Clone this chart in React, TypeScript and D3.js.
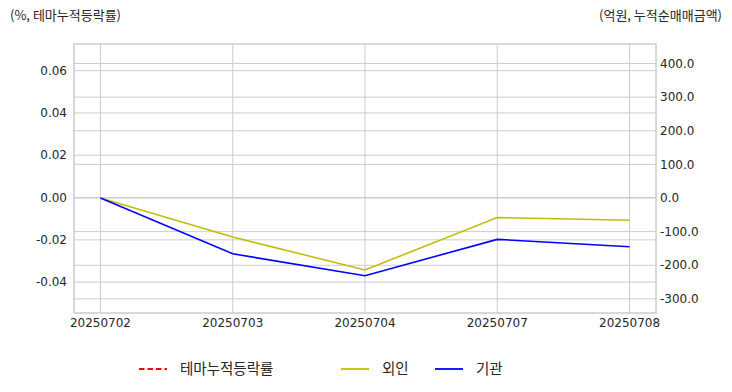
import React from "react";
import * as d3 from "d3";

const dates = ["20250702", "20250703", "20250704", "20250707", "20250708"];
const themeRate: (number | null)[] = [null, null, null, null, null];
const foreign = [0, -116, -214, -58, -66];
const institution = [0, -166, -231, -123, -145];
const leftTicks = [-0.04, -0.02, 0, 0.02, 0.04, 0.06];
const rightTicks = [-300, -200, -100, 0, 100, 200, 300, 400];

const W = 732, H = 392;
const M = { left: 74, right: 656, top: 44, bottom: 313 };
const FONT = "'DejaVu Sans', 'Noto Sans CJK KR', sans-serif";
const KFONT = "'Noto Sans CJK KR', 'DejaVu Sans', sans-serif";

export default function App() {
  const x = d3.scaleLinear().domain([-0.2, dates.length - 1 + 0.2]).range([M.left, M.right]);
  const yL = d3.scaleLinear().domain([-0.0546, 0.0726]).range([M.bottom, M.top]);
  const yR = d3.scaleLinear().domain([-342, 458]).range([M.bottom, M.top]);
  const lineR = d3.line<number>().x((_, i) => x(i)).y((d) => yR(d));
  const lineL = d3
    .line<number | null>()
    .defined((d) => d != null)
    .x((_, i) => x(i))
    .y((d) => yL(d as number));
  const grid = "#cccccc";
  const legendY = 369;
  const legend = [
    { label: "테마누적등락률", color: "#ff0000", dash: "5.5,3", x: 139 },
    { label: "외인", color: "#bfbf00", dash: undefined, x: 341 },
    { label: "기관", color: "#0000ff", dash: undefined, x: 435 },
  ];
  return (
    <svg width={W} height={H} style={{ position: "absolute", left: 0, top: 0, background: "#fff" }}>
      <rect x={0} y={0} width={W} height={H} fill="#fff" />
      {dates.map((_, i) => (
        <line key={"v" + i} x1={x(i)} x2={x(i)} y1={M.top} y2={M.bottom} stroke={grid} strokeWidth={1} />
      ))}
      {leftTicks.map((t) => (
        <line key={"gl" + t} x1={M.left} x2={M.right} y1={yL(t)} y2={yL(t)} stroke={grid} strokeWidth={1} />
      ))}
      {rightTicks.map((t) => (
        <line key={"gr" + t} x1={M.left} x2={M.right} y1={yR(t)} y2={yR(t)} stroke={grid} strokeWidth={1} />
      ))}
      <rect x={M.left} y={M.top} width={M.right - M.left} height={M.bottom - M.top} fill="none" stroke="#cccccc" strokeWidth={1.5} />
      <path d={lineL(themeRate) || ""} fill="none" stroke="#ff0000" strokeWidth={1.6} strokeDasharray="5.5,3" />
      <path d={lineR(foreign) || ""} fill="none" stroke="#bfbf00" strokeWidth={1.6} />
      <path d={lineR(institution) || ""} fill="none" stroke="#0000ff" strokeWidth={1.6} />
      {leftTicks.map((t) => (
        <text key={"tl" + t} x={67} y={yL(t)} dy="0.35em" textAnchor="end" fontSize={12} fontFamily={FONT} fill="#262626">
          {t.toFixed(2)}
        </text>
      ))}
      {rightTicks.map((t) => (
        <text key={"tr" + t} x={660} y={yR(t)} dy="0.35em" textAnchor="start" fontSize={12} fontFamily={FONT} fill="#262626">
          {t.toFixed(1)}
        </text>
      ))}
      {dates.map((d, i) => (
        <text key={"tx" + d} x={x(i)} y={327} textAnchor="middle" fontSize={12} fontFamily={FONT} fill="#262626">
          {d}
        </text>
      ))}
      <text x={10} y={20} fontSize={13} fontFamily={KFONT} fill="#262626">(%, 테마누적등락률)</text>
      <text x={722} y={20} textAnchor="end" fontSize={13} fontFamily={KFONT} fill="#262626">(억원, 누적순매매금액)</text>
      {legend.map((l) => (
        <g key={l.label}>
          <line x1={l.x} x2={l.x + 28} y1={legendY} y2={legendY} stroke={l.color} strokeWidth={1.8} strokeDasharray={l.dash} />
          <text x={l.x + 41} y={legendY} dy="0.35em" fontSize={14.5} fontFamily={KFONT} fill="#262626">{l.label}</text>
        </g>
      ))}
    </svg>
  );
}
